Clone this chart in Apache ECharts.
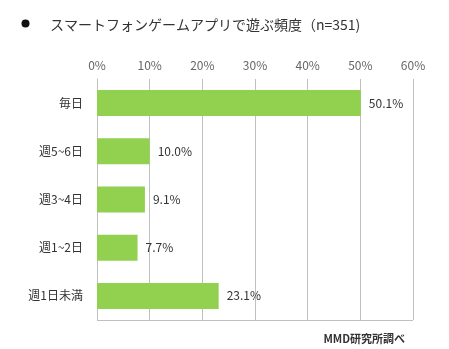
<!DOCTYPE html>
<html><head><meta charset="utf-8">
<script src="https://cdn.jsdelivr.net/npm/echarts@6/dist/echarts.min.js"></script>
<style>html,body{margin:0;padding:0;background:#fff}#c{width:449px;height:349px}</style>
</head><body><div id="c"></div>
<script>
const categories = ["毎日", "週5~6日", "週3~4日", "週1~2日", "週1日未満"];
const values = [50.1, 10.0, 9.1, 7.7, 23.1];
const titleText = "スマートフォンゲームアプリで遊ぶ頻度（n=351)";
const sourceText = "MMD研究所調べ";
const font = '"Noto Sans CJK JP", sans-serif';
const chart = echarts.init(document.getElementById('c'));
chart.setOption({
  animation: false,
  textStyle: { fontFamily: font },
  title: [
    { text: titleText, left: 45, top: 13, textStyle: { fontSize: 14, color: '#333', fontWeight: 'normal', fontFamily: font } },
    { text: sourceText, right: 39, top: 328, textStyle: { fontSize: 11, color: '#333', fontWeight: 'bold', fontFamily: font } }
  ],
  grid: { left: 97, top: 79, width: 316, height: 241, containLabel: false },
  xAxis: {
    type: 'value', position: 'top', min: 0, max: 60, interval: 10,
    axisLabel: { formatter: '{value}%', color: '#666', fontSize: 12, margin: 8, fontFamily: font },
    axisLine: { show: false }, axisTick: { show: false },
    splitLine: { show: true, lineStyle: { color: '#c0c0c0', width: 1 } }
  },
  yAxis: {
    type: 'category', data: categories, inverse: true,
    axisLabel: { color: '#333', fontSize: 12, margin: 14, fontFamily: font },
    axisLine: { show: true, lineStyle: { color: '#c0c0c0' } }, axisTick: { show: false }
  },
  series: [{
    type: 'bar', data: values, barWidth: 26,
    itemStyle: { color: '#92d050' },
    label: { show: true, position: 'right', distance: 8, formatter: p => p.value.toFixed(1) + '%', color: '#333', fontSize: 12, fontFamily: font }
  }],
  graphic: [
    { type: 'circle', shape: { cx: 25.5, cy: 23.5, r: 4 }, style: { fill: '#111' } },
    { type: 'line', shape: { x1: 97, y1: 320.5, x2: 413, y2: 320.5 }, style: { stroke: '#c0c0c0', lineWidth: 1 } }
  ]
});
</script></body></html>
